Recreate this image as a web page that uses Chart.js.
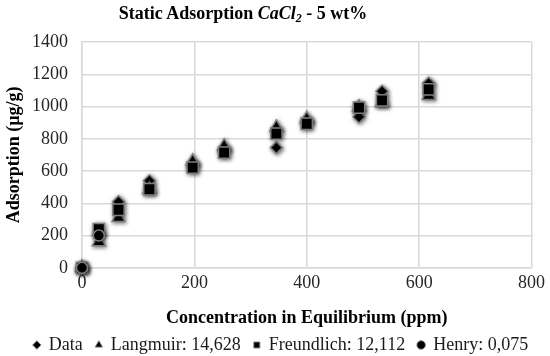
<!DOCTYPE html>
<html lang="en">
<head>
    <meta charset="UTF-8" />
    <title>Static Adsorption CaCl2</title>
    <script src="https://cdn.jsdelivr.net/npm/chart.js"></script>
    <style>
        * { box-sizing: border-box; margin: 0; padding: 0; }
        body { background: #fff; width: 550px; height: 356px; overflow: hidden; position: relative; }
        #wrap { position: absolute; left: 0; top: 0; width: 550px; height: 356px; }
        #titulo {
            position: absolute;
            top: 3px;
            left: 243px;
            transform: translateX(-50%);
            font-family: 'Liberation Serif', serif;
            font-weight: bold;
            font-size: 18px;
            color: #000;
            white-space: nowrap;
        }
        #titulo sub { font-size: 12px; vertical-align: -3px; }
    </style>
</head>
<body>
    <div id="wrap"><canvas id="grafico"></canvas></div>
    <div id="titulo">Static Adsorption <i>CaCl<sub>2</sub></i> - 5 wt%</div>

    <script>
        // concentracao de equilibrio (ppm)
        const conc = [0, 30, 65, 120, 197, 253, 346, 400, 493, 534, 617];
        const dados = [0, 205, 410, 540, 635, 725, 745, 905, 935, 1095, 1145];
        const langmuir = [0, 160, 310, 486, 660, 754, 870, 923, 995, 1022, 1067];
        const freundlich = [0, 240, 360, 487, 621, 714, 832, 893, 993, 1038, 1106];
        const henryConc = [0, 30];
        const henry = [0, 200];

        const xTicks = [0, 200, 400, 600, 800];
        const yTicks = [0, 200, 400, 600, 800, 1000, 1200, 1400];

        const pontos = (xs, ys) => xs.map((x, i) => ({ x: x, y: ys[i] }));

        const fonte = "'Liberation Serif', 'Times New Roman', serif";

        // sombra leve nos marcadores (efeito do Excel)
        const sombra = {
            id: 'sombra',
            afterLayout(chart) {
                // legenda do original fica um pouco deslocada para a direita
                chart.legend.left += 12;
                chart.legend.right += 12;
            },
            beforeDatasetsDraw(chart) {
                const c = chart.ctx;
                c.save();
                c.shadowColor = 'rgba(0,0,0,0.55)';
                c.shadowBlur = 4;
                c.shadowOffsetX = 1;
                c.shadowOffsetY = 1;
            },
            afterDatasetsDraw(chart) {
                chart.ctx.restore();
            }
        };

        function serie(label, xs, ys, estilo, raio, ordem) {
            return {
                label: label,
                data: pontos(xs, ys),
                pointStyle: estilo,
                pointRadius: raio,
                pointHoverRadius: raio,
                backgroundColor: '#000',
                borderColor: '#7f7f7f',
                pointBorderWidth: 1.5,
                showLine: false,
                clip: false,
                order: ordem
            };
        }

        const ctx = document.getElementById('grafico').getContext('2d');
        new Chart(ctx, {
            type: 'scatter',
            data: {
                datasets: [
                    serie('Data', conc, dados, 'rectRot', 6, 3),
                    serie('Langmuir: 14,628', conc, langmuir, 'triangle', 7.5, 2),
                    serie('Freundlich: 12,112', conc, freundlich, 'rect', 8, 1),
                    serie('Henry: 0,075', henryConc, henry, 'circle', 5.5, 0)
                ]
            },
            options: {
                responsive: true,
                maintainAspectRatio: false,
                animation: false,
                layout: { padding: { top: 42, right: 16, bottom: -8, left: 4 } },
                plugins: {
                    legend: {
                        position: 'bottom',
                        labels: {
                            usePointStyle: true,
                            boxWidth: 6,
                            boxHeight: 6,
                            padding: 13,
                            color: '#1a1a1a',
                            font: { family: fonte, size: 18 },
                            sort: (a, b) => a.datasetIndex - b.datasetIndex,
                            generateLabels: chart => {
                                const itens = Chart.defaults.plugins.legend.labels.generateLabels(chart);
                                itens.forEach(it => { it.lineWidth = 1; });
                                return itens;
                            }
                        }
                    },
                    tooltip: { enabled: false }
                },
                scales: {
                    x: {
                        type: 'linear',
                        min: 0,
                        max: 800,
                        afterBuildTicks: s => { s.ticks = xTicks.map(v => ({ value: v })); },
                        ticks: { color: '#262626', font: { family: fonte, size: 18 }, padding: 5, callback: v => String(v) },
                        grid: { color: '#d9d9d9', lineWidth: 1.5, drawTicks: false },
                        border: { color: '#d9d9d9', width: 1.5 },
                        title: {
                            display: true,
                            text: 'Concentration in Equilibrium (ppm)',
                            color: '#000',
                            font: { family: fonte, size: 18, weight: 'bold' },
                            padding: { top: 8, bottom: -6 }
                        }
                    },
                    y: {
                        min: 0,
                        max: 1400,
                        afterBuildTicks: s => { s.ticks = yTicks.map(v => ({ value: v })); },
                        ticks: { color: '#262626', font: { family: fonte, size: 18 }, padding: 14, callback: v => String(v) },
                        grid: { color: '#d9d9d9', lineWidth: 1.5, drawTicks: false },
                        border: { color: '#d9d9d9', width: 1.5 },
                        title: {
                            display: true,
                            text: 'Adsorption (µg/g)',
                            color: '#000',
                            font: { family: fonte, size: 18, weight: 'bold' },
                            padding: { top: 0, bottom: 4 }
                        },
                        afterFit: s => { s.width = 78; }
                    }
                }
            },
            plugins: [sombra]
        });
    </script>
</body>
</html>
